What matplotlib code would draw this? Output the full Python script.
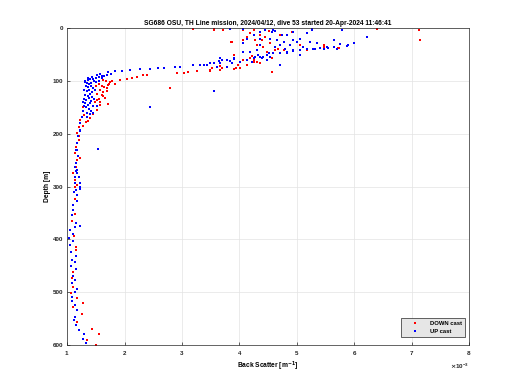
import numpy as np
import matplotlib
matplotlib.use('Agg')
from matplotlib import pyplot as plt
from matplotlib.ticker import ScalarFormatter

# back scatter in units of 1e-3 m^-1, depth in m
down_bs = [3.49, 3.52, 3.67, 3.69, 3.90, 3.95, 3.98, 4.07, 4.19, 4.22, 4.25, 4.30, 4.36, 4.56, 4.56,
           4.62, 4.68, 4.71, 4.77, 4.07, 4.13, 4.19, 4.25, 4.27, 4.30, 4.36, 4.39, 4.48, 4.54, 4.42,
           4.07, 3.55, 3.72, 3.86, 4.91, 5.06, 5.17, 5.47, 5.73, 3.90, 4.45, 4.51,
           7.12, 7.15, 6.39, 5.71, 5.47, 3.20, 3.55, 3.87, 2.79,
           1.63, 1.75, 1.84, 1.92, 2.04, 2.13, 2.21, 2.33, 2.39, 2.91, 3.03, 3.11, 3.26, 3.49, 3.52,
           3.67, 3.90, 4.01, 4.13, 4.25, 4.36, 4.48, 4.57, 1.72, 1.69, 1.63, 1.60, 1.66, 1.72, 1.57, 1.52,
           1.55, 1.60, 1.58, 1.65, 1.52, 1.62, 1.55, 1.70, 1.48, 1.58, 1.52, 1.45, 1.40, 1.30, 1.36,
           1.50, 1.68, 1.73, 1.78, 1.33, 1.28,
           1.28, 1.23, 1.20, 1.17, 1.20, 1.16, 1.14, 1.18, 1.16, 1.11, 1.14, 1.22, 1.20,
           1.17, 1.13, 1.14, 1.14, 1.09, 1.12, 1.16, 1.16, 1.11, 1.08, 1.11, 1.06, 1.18, 1.27,
           1.10, 1.26, 1.17, 1.43, 1.55, 1.35, 1.50]
down_depth = [81, 75, 71, 76, 78, 76, 70, 60, 57, 52, 60, 64, 54, 83, 57,
              42, 40, 13, 42, 23, 16, 10, 4, 23, 32, 13, 23, 45, 29, 35,
              4, 4, 4, 26, 8, 32, 42, 32, 37, 51, 16, 6,
              4, 23, 2, 37, 35, 2, 2, 26, 114,
              98, 102, 105, 98, 97, 95, 93, 89, 88, 85, 85, 83, 81, 80, 75,
              80, 78, 76, 70, 64, 67, 61, 83, 108, 114, 121, 127, 133, 143, 140, 136,
              105, 110, 118, 112, 125, 128, 135, 120, 140, 145, 155, 162, 170, 165, 175,
              110, 100, 105, 100, 178, 185,
              150, 174, 187, 199, 212, 225, 237, 250, 263, 275, 288, 245, 205,
              297, 301, 323, 351, 365, 394, 415, 419, 461, 472, 490, 502, 510, 520,
              528, 542, 556, 569, 578, 591, 600]

up_bs = [1.31, 1.37, 1.43, 1.52, 1.57, 1.72, 1.84, 1.95, 2.10, 2.27, 2.45, 2.59, 2.68, 2.88, 2.97,
         3.20, 3.32, 3.43, 3.55, 3.67, 3.78, 3.90, 4.01, 4.13, 4.25, 4.36, 4.48, 4.59, 4.71, 4.83,
         4.94, 5.06, 5.18, 5.29, 5.41, 5.52, 5.64, 5.76, 5.87, 5.99,
         6.22, 5.79, 5.26, 5.18, 4.94, 4.59, 4.36, 4.07, 3.84, 5.90, 3.55, 2.45, 1.53,
         3.38, 3.67, 3.69, 3.84, 3.90, 4.07, 4.19, 4.30, 4.33, 4.42, 4.51, 4.54, 4.57, 4.62, 4.65,
         4.71, 4.74, 4.77, 4.80, 4.83, 4.89, 4.94, 5.00, 5.06, 5.11, 5.17, 5.23, 5.26, 5.32, 5.35,
         5.47, 5.55, 5.64, 5.70, 5.87, 5.99, 4.71, 4.45, 4.25, 4.36, 4.13, 4.07, 4.22, 4.39, 4.48,
         4.01, 3.87, 3.78, 3.61, 3.49, 3.64, 4.54, 4.27, 4.36, 4.62, 4.94, 5.06, 4.83,
         1.32, 1.36, 1.40, 1.45, 1.50, 1.34, 1.38, 1.42, 1.47, 1.33, 1.37, 1.41, 1.45, 1.30, 1.35,
         1.39, 1.43, 1.31, 1.36, 1.40, 1.44, 1.29, 1.33, 1.38, 1.42, 1.31, 1.36, 1.40, 1.45, 1.33,
         1.38, 1.42, 1.35, 1.40, 1.50, 1.48, 1.47, 1.52, 1.55, 1.60, 1.65, 1.70, 1.76, 1.60, 1.55,
         1.30, 1.28, 1.46, 1.34,
         1.28, 1.26, 1.23, 1.22, 1.19, 1.17, 1.15, 1.19, 1.15, 1.17, 1.20, 1.23, 1.22, 1.17, 1.14,
         1.23, 1.12,
         1.16, 1.18, 1.14, 1.14, 1.16, 1.23, 1.17, 1.18, 1.11, 1.09, 1.11, 1.16, 1.23, 1.14, 1.05,
         1.10, 1.04, 1.11, 1.05, 1.06, 1.16, 1.09, 1.14, 1.07, 1.16, 1.11, 1.13, 1.09, 1.18, 1.14,
         1.08, 1.09, 1.14, 1.17, 1.14, 1.12, 1.16, 1.21, 1.30, 1.28, 1.33]
up_depth = [102, 95, 92, 89, 87, 84, 81, 81, 80, 78, 77, 76, 75, 74, 73,
            69, 70, 69, 67, 66, 61, 59, 64, 61, 56, 54, 51, 48, 48, 45,
            43, 42, 40, 39, 37, 35, 35, 30, 33, 29,
            16, 4, 2, 10, 7, 4, 7, 2, 2, 32, 119, 150, 228,
            70, 57, 60, 62, 57, 45, 46, 42, 51, 54, 48, 20, 7, 6, 23,
            32, 13, 26, 39, 13, 32, 23, 26, 20, 35, 10, 26, 4, 39, 29,
            39, 37, 23, 39, 33, 29, 70, 4, 13, 21, 20, 29, 64, 57, 60,
            64, 67, 73, 73, 67, 62, 54, 54, 32, 35, 42, 51, 48,
            100, 98, 97, 96, 95, 104, 106, 103, 101, 110, 112, 109, 113, 118, 120,
            117, 121, 126, 128, 125, 130, 134, 136, 133, 138, 142, 145, 141, 147, 150,
            153, 156, 160, 163, 102, 118, 135, 148, 92, 91, 90, 88, 87, 95, 100,
            148, 140, 160, 168,
            156, 168, 180, 193, 205, 218, 231, 243, 256, 269, 281, 294, 194, 230, 262,
            300, 310,
            271, 275, 282, 293, 307, 305, 316, 328, 334, 353, 345, 369, 374, 376, 383,
            389, 398, 403, 411, 424, 432, 439, 442, 451, 455, 470, 477, 483, 493, 499,
            509, 517, 524, 534, 547, 553, 562, 571, 579, 588, 596]

title = 'SG686 OSU, TH Line mission, 2024/04/12, dive 53 started 20-Apr-2024 11:46:41'

plt.rcParams['font.family'] = ['Liberation Sans', 'DejaVu Sans']
plt.rcParams['font.weight'] = 'bold'

fig = plt.figure(figsize=(5.2, 3.9), dpi=100)
ax = fig.add_axes([0.129, 0.115, 0.773, 0.813])

ax.plot(np.array(down_bs) * 1e-3, down_depth, 's', color='red', ms=1.9, mew=0, label='DOWN cast')
ax.plot(np.array(up_bs) * 1e-3, up_depth, 's', color='blue', ms=1.9, mew=0, label='UP cast')

ax.set_xlim(1e-3, 8e-3)
ax.set_ylim(600, 0)
ax.set_xticks(np.arange(1, 9) * 1e-3)
ax.set_yticks(np.arange(0, 601, 100))
fmt = ScalarFormatter(useMathText=True)
fmt.set_powerlimits((-3, -3))
ax.xaxis.set_major_formatter(fmt)
ax.xaxis.get_offset_text().set_fontsize(4.5)

ax.grid(True, color='#e3e3e3', linewidth=0.5)
ax.set_axisbelow(True)
ax.tick_params(direction='in', length=2, width=0.5, labelsize=4.5, colors='#262626', pad=3)
for s in ax.spines.values():
    s.set_linewidth(0.5)
    s.set_color('#262626')

ax.set_title(title, fontsize=4.8, fontweight='bold', pad=2)
ax.set_xlabel('Back Scatter [m$^{-1}$]', fontsize=4.8, fontweight='bold', labelpad=2)
ax.set_ylabel('Depth [m]', fontsize=4.8, fontweight='bold', labelpad=1)

leg = ax.legend(loc='lower right', bbox_to_anchor=(0.995, 0.02), fontsize=4.2, markerscale=1.0,
                frameon=True, fancybox=False, edgecolor='#262626', facecolor='#e6e6e6',
                handlelength=4.0, handletextpad=0.6, borderpad=0.5, labelspacing=0.5,
                borderaxespad=0.3)
leg.get_frame().set_linewidth(0.5)
leg.get_frame().set_alpha(1)

fig.savefig('out.png', dpi=100)
